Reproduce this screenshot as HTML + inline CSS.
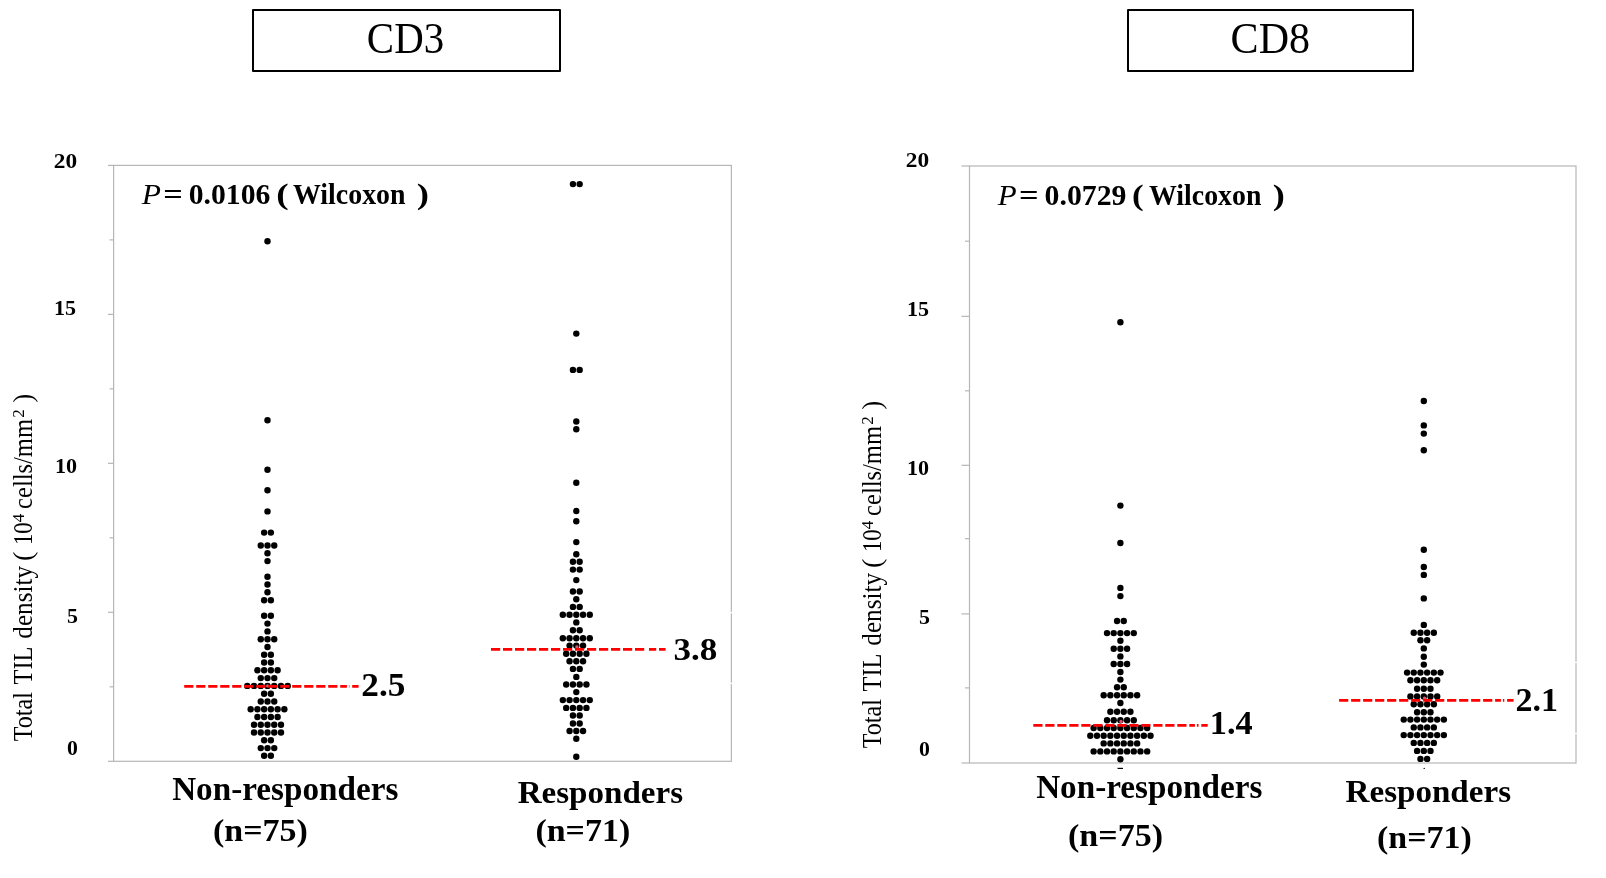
<!DOCTYPE html>
<html lang="en"><head><meta charset="utf-8"><title>CD3 / CD8 TIL density</title>
<style>
html,body{margin:0;padding:0;background:#fff;}
body{width:1606px;height:878px;overflow:hidden;}
svg{display:block;font-family:"Liberation Serif","Times New Roman",serif;fill:#000;}
svg{will-change:transform;}
</style></head><body>
<svg width="1606" height="878" viewBox="0 0 1606 878">
<rect width="1606" height="878" fill="#fff"/>
<g stroke="#b6b6b6" stroke-width="1.2" fill="none">
<rect x="113.6" y="165.4" width="617.75" height="595.9"/>
<line x1="108.0" y1="761.30" x2="113.6" y2="761.30"/>
<line x1="109.6" y1="686.81" x2="113.6" y2="686.81"/>
<line x1="108.0" y1="612.32" x2="113.6" y2="612.32"/>
<line x1="109.6" y1="537.84" x2="113.6" y2="537.84"/>
<line x1="108.0" y1="463.35" x2="113.6" y2="463.35"/>
<line x1="109.6" y1="388.86" x2="113.6" y2="388.86"/>
<line x1="108.0" y1="314.38" x2="113.6" y2="314.38"/>
<line x1="109.6" y1="239.89" x2="113.6" y2="239.89"/>
<line x1="108.0" y1="165.40" x2="113.6" y2="165.40"/>
</g>
<g stroke="#b6b6b6" stroke-width="1.2" fill="none">
<rect x="969.5" y="166.0" width="606.5" height="597.0"/>
<line x1="961.5" y1="763.00" x2="969.5" y2="763.00"/>
<line x1="965.0" y1="687.90" x2="969.5" y2="687.90"/>
<line x1="961.5" y1="613.90" x2="969.5" y2="613.90"/>
<line x1="965.0" y1="538.70" x2="969.5" y2="538.70"/>
<line x1="961.5" y1="465.30" x2="969.5" y2="465.30"/>
<line x1="965.0" y1="390.80" x2="969.5" y2="390.80"/>
<line x1="961.5" y1="316.35" x2="969.5" y2="316.35"/>
<line x1="965.0" y1="241.20" x2="969.5" y2="241.20"/>
<line x1="961.5" y1="166.00" x2="969.5" y2="166.00"/>
</g>
<g fill="#fff"><rect x="729.8" y="612.0" width="3" height="1.3"/><rect x="729.8" y="682.7" width="3" height="1.3"/><rect x="1574.5" y="661.7" width="3" height="1.3"/><rect x="1574.5" y="732.8" width="3" height="1.3"/></g>
<g stroke="#000" stroke-width="2" stroke-linejoin="round" fill="#fff">
<rect x="253" y="10" width="307" height="61"/>
<rect x="1128" y="10" width="285" height="61"/>
</g>
<text transform="translate(366.86,53.00) scale(0.9179,1)" font-size="44.54"  >CD3</text>
<text transform="translate(1230.62,53.00) scale(0.9435,1)" font-size="44.54"  >CD8</text>
<text transform="translate(53.79,167.79) scale(1.1136,1)" font-size="20.99" font-weight="bold" >20</text>
<text transform="translate(54.03,314.79) scale(1.0490,1)" font-size="21.04" font-weight="bold" >15</text>
<text transform="translate(55.03,472.69) scale(1.0594,1)" font-size="20.84" font-weight="bold" >10</text>
<text transform="translate(67.02,622.69) scale(1.0335,1)" font-size="21.26" font-weight="bold" >5</text>
<text transform="translate(67.10,754.79) scale(1.0387,1)" font-size="20.99" font-weight="bold" >0</text>
<text transform="translate(905.79,166.69) scale(1.1215,1)" font-size="20.84" font-weight="bold" >20</text>
<text transform="translate(907.03,315.79) scale(1.0416,1)" font-size="21.19" font-weight="bold" >15</text>
<text transform="translate(907.03,474.69) scale(1.0670,1)" font-size="20.69" font-weight="bold" >10</text>
<text transform="translate(919.02,623.79) scale(1.0262,1)" font-size="21.41" font-weight="bold" >5</text>
<text transform="translate(919.10,755.79) scale(1.0460,1)" font-size="20.84" font-weight="bold" >0</text>
<text transform="translate(141.81,203.50) scale(1.1070,1)" font-size="28.47" font-style="italic">P</text>
<text transform="translate(163.18,203.50) scale(1.2054,1)" font-size="28.47" font-weight="bold">=</text>
<text transform="translate(188.71,203.50) scale(1.0433,1)" font-size="28.47" font-weight="bold">0.0106</text>
<text transform="translate(276.18,203.50) scale(1.3138,1)" font-size="28.47" font-weight="bold">(</text>
<text transform="translate(293.03,203.50) scale(0.9784,1)" font-size="28.47" font-weight="bold">Wilcoxon</text>
<text transform="translate(416.68,203.50) scale(1.2864,1)" font-size="28.47" font-weight="bold">)</text>
<text transform="translate(997.71,204.50) scale(1.0893,1)" font-size="28.47" font-style="italic">P</text>
<text transform="translate(1019.07,204.50) scale(1.2130,1)" font-size="28.47" font-weight="bold">=</text>
<text transform="translate(1044.61,204.50) scale(1.0459,1)" font-size="28.47" font-weight="bold">0.0729</text>
<text transform="translate(1131.88,204.50) scale(1.2317,1)" font-size="28.47" font-weight="bold">(</text>
<text transform="translate(1149.03,204.50) scale(0.9775,1)" font-size="28.47" font-weight="bold">Wilcoxon</text>
<text transform="translate(1272.69,204.50) scale(1.2727,1)" font-size="28.47" font-weight="bold">)</text>
<text transform="translate(32.00,741.30) rotate(-90) scale(0.9186,1)" font-size="26.3">Total</text>
<text transform="translate(32.00,684.41) rotate(-90) scale(0.9244,1)" font-size="26.3">TIL</text>
<text transform="translate(32.00,638.72) rotate(-90) scale(0.9579,1)" font-size="26.3">density</text>
<text transform="translate(32.00,561.02) rotate(-90) scale(1.0666,1)" font-size="26.3">(</text>
<text transform="translate(32.00,545.08) rotate(-90) scale(0.8674,1)" font-size="26.3">10</text>
<text transform="translate(23.70,522.24) rotate(-90) scale(1.0656,1)" font-size="16.0">4</text>
<text transform="translate(32.00,508.90) rotate(-90) scale(0.9334,1)" font-size="26.3">cells/mm</text>
<text transform="translate(23.70,417.64) rotate(-90) scale(1.0625,1)" font-size="16.0">2</text>
<text transform="translate(32.00,402.57) rotate(-90) scale(0.9925,1)" font-size="26.3">)</text>
<text transform="translate(880.90,748.30) rotate(-90) scale(0.9186,1)" font-size="26.3">Total</text>
<text transform="translate(880.90,691.41) rotate(-90) scale(0.9244,1)" font-size="26.3">TIL</text>
<text transform="translate(880.90,645.72) rotate(-90) scale(0.9579,1)" font-size="26.3">density</text>
<text transform="translate(880.90,568.02) rotate(-90) scale(1.0666,1)" font-size="26.3">(</text>
<text transform="translate(880.90,552.08) rotate(-90) scale(0.8674,1)" font-size="26.3">10</text>
<text transform="translate(872.60,529.24) rotate(-90) scale(1.0656,1)" font-size="16.0">4</text>
<text transform="translate(880.90,515.90) rotate(-90) scale(0.9334,1)" font-size="26.3">cells/mm</text>
<text transform="translate(872.60,424.64) rotate(-90) scale(1.0625,1)" font-size="16.0">2</text>
<text transform="translate(880.90,409.57) rotate(-90) scale(0.9925,1)" font-size="26.3">)</text>
<text transform="translate(172.14,799.60) scale(1.0086,1)" font-size="32.91" font-weight="bold" >Non-responders</text>
<text transform="translate(212.93,841.30) scale(1.0536,1)" font-size="32.30" font-weight="bold" >(n=75)</text>
<text transform="translate(517.65,802.60) scale(1.0245,1)" font-size="32.30" font-weight="bold" >Responders</text>
<text transform="translate(535.43,841.30) scale(1.0513,1)" font-size="32.30" font-weight="bold" >(n=71)</text>
<text transform="translate(1036.14,797.70) scale(1.0133,1)" font-size="32.76" font-weight="bold" >Non-responders</text>
<text transform="translate(1068.03,846.30) scale(1.0637,1)" font-size="31.99" font-weight="bold" >(n=75)</text>
<text transform="translate(1345.55,801.50) scale(1.0300,1)" font-size="32.14" font-weight="bold" >Responders</text>
<text transform="translate(1377.03,848.20) scale(1.0614,1)" font-size="31.99" font-weight="bold" >(n=71)</text>
<g><!-- 75 points -->
<circle cx="267.50" cy="241.20" r="3.2"/>
<circle cx="267.50" cy="420.20" r="3.2"/>
<circle cx="267.50" cy="469.80" r="3.2"/>
<circle cx="267.50" cy="490.30" r="3.2"/>
<circle cx="267.50" cy="511.40" r="3.2"/>
<circle cx="264.13" cy="532.60" r="3.2"/>
<circle cx="270.87" cy="532.60" r="3.2"/>
<circle cx="260.76" cy="545.50" r="3.2"/>
<circle cx="267.50" cy="545.50" r="3.2"/>
<circle cx="274.24" cy="545.50" r="3.2"/>
<circle cx="267.50" cy="553.30" r="3.2"/>
<circle cx="267.50" cy="561.10" r="3.2"/>
<circle cx="267.50" cy="576.70" r="3.2"/>
<circle cx="267.50" cy="584.50" r="3.2"/>
<circle cx="267.50" cy="592.30" r="3.2"/>
<circle cx="264.13" cy="600.30" r="3.2"/>
<circle cx="270.87" cy="600.30" r="3.2"/>
<circle cx="264.13" cy="615.80" r="3.2"/>
<circle cx="270.87" cy="615.80" r="3.2"/>
<circle cx="267.50" cy="623.60" r="3.2"/>
<circle cx="267.50" cy="631.40" r="3.2"/>
<circle cx="260.76" cy="639.20" r="3.2"/>
<circle cx="267.50" cy="639.20" r="3.2"/>
<circle cx="274.24" cy="639.20" r="3.2"/>
<circle cx="267.50" cy="647.00" r="3.2"/>
<circle cx="264.13" cy="654.80" r="3.2"/>
<circle cx="270.87" cy="654.80" r="3.2"/>
<circle cx="264.13" cy="662.50" r="3.2"/>
<circle cx="270.87" cy="662.50" r="3.2"/>
<circle cx="257.39" cy="670.30" r="3.2"/>
<circle cx="264.13" cy="670.30" r="3.2"/>
<circle cx="270.87" cy="670.30" r="3.2"/>
<circle cx="277.61" cy="670.30" r="3.2"/>
<circle cx="260.76" cy="678.10" r="3.2"/>
<circle cx="267.50" cy="678.10" r="3.2"/>
<circle cx="274.24" cy="678.10" r="3.2"/>
<circle cx="247.28" cy="685.90" r="3.2"/>
<circle cx="254.02" cy="685.90" r="3.2"/>
<circle cx="260.76" cy="685.90" r="3.2"/>
<circle cx="267.50" cy="685.90" r="3.2"/>
<circle cx="274.24" cy="685.90" r="3.2"/>
<circle cx="280.98" cy="685.90" r="3.2"/>
<circle cx="287.72" cy="685.90" r="3.2"/>
<circle cx="264.13" cy="693.70" r="3.2"/>
<circle cx="270.87" cy="693.70" r="3.2"/>
<circle cx="260.76" cy="701.50" r="3.2"/>
<circle cx="267.50" cy="701.50" r="3.2"/>
<circle cx="274.24" cy="701.50" r="3.2"/>
<circle cx="250.65" cy="709.20" r="3.2"/>
<circle cx="257.39" cy="709.20" r="3.2"/>
<circle cx="264.13" cy="709.20" r="3.2"/>
<circle cx="270.87" cy="709.20" r="3.2"/>
<circle cx="277.61" cy="709.20" r="3.2"/>
<circle cx="284.35" cy="709.20" r="3.2"/>
<circle cx="257.39" cy="717.00" r="3.2"/>
<circle cx="264.13" cy="717.00" r="3.2"/>
<circle cx="270.87" cy="717.00" r="3.2"/>
<circle cx="277.61" cy="717.00" r="3.2"/>
<circle cx="254.02" cy="724.80" r="3.2"/>
<circle cx="260.76" cy="724.80" r="3.2"/>
<circle cx="267.50" cy="724.80" r="3.2"/>
<circle cx="274.24" cy="724.80" r="3.2"/>
<circle cx="280.98" cy="724.80" r="3.2"/>
<circle cx="254.02" cy="732.50" r="3.2"/>
<circle cx="260.76" cy="732.50" r="3.2"/>
<circle cx="267.50" cy="732.50" r="3.2"/>
<circle cx="274.24" cy="732.50" r="3.2"/>
<circle cx="280.98" cy="732.50" r="3.2"/>
<circle cx="264.13" cy="740.30" r="3.2"/>
<circle cx="270.87" cy="740.30" r="3.2"/>
<circle cx="260.76" cy="748.10" r="3.2"/>
<circle cx="267.50" cy="748.10" r="3.2"/>
<circle cx="274.24" cy="748.10" r="3.2"/>
<circle cx="264.13" cy="755.80" r="3.2"/>
<circle cx="270.87" cy="755.80" r="3.2"/>
</g>
<g><!-- 71 points -->
<circle cx="572.93" cy="184.10" r="3.2"/>
<circle cx="579.67" cy="184.10" r="3.2"/>
<circle cx="576.30" cy="333.60" r="3.2"/>
<circle cx="572.93" cy="369.90" r="3.2"/>
<circle cx="579.67" cy="369.90" r="3.2"/>
<circle cx="576.30" cy="421.50" r="3.2"/>
<circle cx="576.30" cy="429.20" r="3.2"/>
<circle cx="576.30" cy="482.70" r="3.2"/>
<circle cx="576.30" cy="511.00" r="3.2"/>
<circle cx="576.30" cy="521.20" r="3.2"/>
<circle cx="576.30" cy="542.10" r="3.2"/>
<circle cx="576.30" cy="554.20" r="3.2"/>
<circle cx="572.93" cy="561.80" r="3.2"/>
<circle cx="579.67" cy="561.80" r="3.2"/>
<circle cx="572.93" cy="569.60" r="3.2"/>
<circle cx="579.67" cy="569.60" r="3.2"/>
<circle cx="576.30" cy="580.10" r="3.2"/>
<circle cx="572.93" cy="591.50" r="3.2"/>
<circle cx="579.67" cy="591.50" r="3.2"/>
<circle cx="576.30" cy="599.30" r="3.2"/>
<circle cx="572.93" cy="606.90" r="3.2"/>
<circle cx="579.67" cy="606.90" r="3.2"/>
<circle cx="562.82" cy="614.80" r="3.2"/>
<circle cx="569.56" cy="614.80" r="3.2"/>
<circle cx="576.30" cy="614.80" r="3.2"/>
<circle cx="583.04" cy="614.80" r="3.2"/>
<circle cx="589.78" cy="614.80" r="3.2"/>
<circle cx="576.30" cy="622.40" r="3.2"/>
<circle cx="572.93" cy="630.20" r="3.2"/>
<circle cx="579.67" cy="630.20" r="3.2"/>
<circle cx="562.82" cy="638.20" r="3.2"/>
<circle cx="569.56" cy="638.20" r="3.2"/>
<circle cx="576.30" cy="638.20" r="3.2"/>
<circle cx="583.04" cy="638.20" r="3.2"/>
<circle cx="589.78" cy="638.20" r="3.2"/>
<circle cx="569.56" cy="645.60" r="3.2"/>
<circle cx="576.30" cy="645.60" r="3.2"/>
<circle cx="583.04" cy="645.60" r="3.2"/>
<circle cx="566.19" cy="653.80" r="3.2"/>
<circle cx="572.93" cy="653.80" r="3.2"/>
<circle cx="579.67" cy="653.80" r="3.2"/>
<circle cx="586.41" cy="653.80" r="3.2"/>
<circle cx="569.56" cy="661.30" r="3.2"/>
<circle cx="576.30" cy="661.30" r="3.2"/>
<circle cx="583.04" cy="661.30" r="3.2"/>
<circle cx="572.93" cy="668.90" r="3.2"/>
<circle cx="579.67" cy="668.90" r="3.2"/>
<circle cx="576.30" cy="676.90" r="3.2"/>
<circle cx="566.19" cy="684.50" r="3.2"/>
<circle cx="572.93" cy="684.50" r="3.2"/>
<circle cx="579.67" cy="684.50" r="3.2"/>
<circle cx="586.41" cy="684.50" r="3.2"/>
<circle cx="576.30" cy="692.10" r="3.2"/>
<circle cx="562.82" cy="700.10" r="3.2"/>
<circle cx="569.56" cy="700.10" r="3.2"/>
<circle cx="576.30" cy="700.10" r="3.2"/>
<circle cx="583.04" cy="700.10" r="3.2"/>
<circle cx="589.78" cy="700.10" r="3.2"/>
<circle cx="566.19" cy="707.90" r="3.2"/>
<circle cx="572.93" cy="707.90" r="3.2"/>
<circle cx="579.67" cy="707.90" r="3.2"/>
<circle cx="586.41" cy="707.90" r="3.2"/>
<circle cx="572.93" cy="715.50" r="3.2"/>
<circle cx="579.67" cy="715.50" r="3.2"/>
<circle cx="572.93" cy="723.50" r="3.2"/>
<circle cx="579.67" cy="723.50" r="3.2"/>
<circle cx="569.56" cy="731.00" r="3.2"/>
<circle cx="576.30" cy="731.00" r="3.2"/>
<circle cx="583.04" cy="731.00" r="3.2"/>
<circle cx="576.30" cy="738.80" r="3.2"/>
<circle cx="576.30" cy="756.70" r="3.2"/>
</g>
<g><!-- 75 points -->
<circle cx="1120.40" cy="322.30" r="3.2"/>
<circle cx="1120.40" cy="505.60" r="3.2"/>
<circle cx="1120.40" cy="543.00" r="3.2"/>
<circle cx="1120.40" cy="587.90" r="3.2"/>
<circle cx="1120.40" cy="596.10" r="3.2"/>
<circle cx="1117.06" cy="621.00" r="3.2"/>
<circle cx="1123.75" cy="621.00" r="3.2"/>
<circle cx="1107.02" cy="633.10" r="3.2"/>
<circle cx="1113.71" cy="633.10" r="3.2"/>
<circle cx="1120.40" cy="633.10" r="3.2"/>
<circle cx="1127.09" cy="633.10" r="3.2"/>
<circle cx="1133.78" cy="633.10" r="3.2"/>
<circle cx="1120.40" cy="640.80" r="3.2"/>
<circle cx="1113.71" cy="648.80" r="3.2"/>
<circle cx="1120.40" cy="648.80" r="3.2"/>
<circle cx="1127.09" cy="648.80" r="3.2"/>
<circle cx="1120.40" cy="656.40" r="3.2"/>
<circle cx="1113.71" cy="664.00" r="3.2"/>
<circle cx="1120.40" cy="664.00" r="3.2"/>
<circle cx="1127.09" cy="664.00" r="3.2"/>
<circle cx="1120.40" cy="672.00" r="3.2"/>
<circle cx="1120.40" cy="679.60" r="3.2"/>
<circle cx="1117.06" cy="687.20" r="3.2"/>
<circle cx="1123.75" cy="687.20" r="3.2"/>
<circle cx="1103.68" cy="695.30" r="3.2"/>
<circle cx="1110.37" cy="695.30" r="3.2"/>
<circle cx="1117.06" cy="695.30" r="3.2"/>
<circle cx="1123.75" cy="695.30" r="3.2"/>
<circle cx="1130.44" cy="695.30" r="3.2"/>
<circle cx="1137.12" cy="695.30" r="3.2"/>
<circle cx="1120.40" cy="703.00" r="3.2"/>
<circle cx="1110.37" cy="711.80" r="3.2"/>
<circle cx="1117.06" cy="711.80" r="3.2"/>
<circle cx="1123.75" cy="711.80" r="3.2"/>
<circle cx="1130.44" cy="711.80" r="3.2"/>
<circle cx="1107.02" cy="720.30" r="3.2"/>
<circle cx="1113.71" cy="720.30" r="3.2"/>
<circle cx="1120.40" cy="720.30" r="3.2"/>
<circle cx="1127.09" cy="720.30" r="3.2"/>
<circle cx="1133.78" cy="720.30" r="3.2"/>
<circle cx="1093.64" cy="728.00" r="3.2"/>
<circle cx="1100.33" cy="728.00" r="3.2"/>
<circle cx="1107.02" cy="728.00" r="3.2"/>
<circle cx="1113.71" cy="728.00" r="3.2"/>
<circle cx="1120.40" cy="728.00" r="3.2"/>
<circle cx="1127.09" cy="728.00" r="3.2"/>
<circle cx="1133.78" cy="728.00" r="3.2"/>
<circle cx="1140.47" cy="728.00" r="3.2"/>
<circle cx="1147.16" cy="728.00" r="3.2"/>
<circle cx="1090.30" cy="735.80" r="3.2"/>
<circle cx="1096.99" cy="735.80" r="3.2"/>
<circle cx="1103.68" cy="735.80" r="3.2"/>
<circle cx="1110.37" cy="735.80" r="3.2"/>
<circle cx="1117.06" cy="735.80" r="3.2"/>
<circle cx="1123.75" cy="735.80" r="3.2"/>
<circle cx="1130.44" cy="735.80" r="3.2"/>
<circle cx="1137.12" cy="735.80" r="3.2"/>
<circle cx="1143.82" cy="735.80" r="3.2"/>
<circle cx="1150.51" cy="735.80" r="3.2"/>
<circle cx="1103.68" cy="743.40" r="3.2"/>
<circle cx="1110.37" cy="743.40" r="3.2"/>
<circle cx="1117.06" cy="743.40" r="3.2"/>
<circle cx="1123.75" cy="743.40" r="3.2"/>
<circle cx="1130.44" cy="743.40" r="3.2"/>
<circle cx="1137.12" cy="743.40" r="3.2"/>
<circle cx="1093.64" cy="751.40" r="3.2"/>
<circle cx="1100.33" cy="751.40" r="3.2"/>
<circle cx="1107.02" cy="751.40" r="3.2"/>
<circle cx="1113.71" cy="751.40" r="3.2"/>
<circle cx="1120.40" cy="751.40" r="3.2"/>
<circle cx="1127.09" cy="751.40" r="3.2"/>
<circle cx="1133.78" cy="751.40" r="3.2"/>
<circle cx="1140.47" cy="751.40" r="3.2"/>
<circle cx="1147.16" cy="751.40" r="3.2"/>
<circle cx="1120.40" cy="759.20" r="3.2"/>
</g>
<g><!-- 71 points -->
<circle cx="1423.80" cy="401.05" r="3.2"/>
<circle cx="1423.80" cy="425.40" r="3.2"/>
<circle cx="1423.80" cy="433.60" r="3.2"/>
<circle cx="1423.80" cy="450.30" r="3.2"/>
<circle cx="1423.80" cy="549.80" r="3.2"/>
<circle cx="1423.80" cy="567.00" r="3.2"/>
<circle cx="1423.80" cy="574.90" r="3.2"/>
<circle cx="1423.80" cy="598.40" r="3.2"/>
<circle cx="1423.80" cy="624.90" r="3.2"/>
<circle cx="1413.76" cy="632.80" r="3.2"/>
<circle cx="1420.45" cy="632.80" r="3.2"/>
<circle cx="1427.14" cy="632.80" r="3.2"/>
<circle cx="1433.84" cy="632.80" r="3.2"/>
<circle cx="1420.45" cy="640.20" r="3.2"/>
<circle cx="1427.14" cy="640.20" r="3.2"/>
<circle cx="1423.80" cy="648.40" r="3.2"/>
<circle cx="1423.80" cy="656.80" r="3.2"/>
<circle cx="1423.80" cy="664.60" r="3.2"/>
<circle cx="1407.08" cy="672.60" r="3.2"/>
<circle cx="1413.76" cy="672.60" r="3.2"/>
<circle cx="1420.45" cy="672.60" r="3.2"/>
<circle cx="1427.14" cy="672.60" r="3.2"/>
<circle cx="1433.84" cy="672.60" r="3.2"/>
<circle cx="1440.52" cy="672.60" r="3.2"/>
<circle cx="1410.42" cy="680.20" r="3.2"/>
<circle cx="1417.11" cy="680.20" r="3.2"/>
<circle cx="1423.80" cy="680.20" r="3.2"/>
<circle cx="1430.49" cy="680.20" r="3.2"/>
<circle cx="1437.18" cy="680.20" r="3.2"/>
<circle cx="1417.11" cy="688.80" r="3.2"/>
<circle cx="1423.80" cy="688.80" r="3.2"/>
<circle cx="1430.49" cy="688.80" r="3.2"/>
<circle cx="1410.42" cy="696.40" r="3.2"/>
<circle cx="1417.11" cy="696.40" r="3.2"/>
<circle cx="1423.80" cy="696.40" r="3.2"/>
<circle cx="1430.49" cy="696.40" r="3.2"/>
<circle cx="1437.18" cy="696.40" r="3.2"/>
<circle cx="1413.76" cy="704.20" r="3.2"/>
<circle cx="1420.45" cy="704.20" r="3.2"/>
<circle cx="1427.14" cy="704.20" r="3.2"/>
<circle cx="1433.84" cy="704.20" r="3.2"/>
<circle cx="1417.11" cy="712.20" r="3.2"/>
<circle cx="1423.80" cy="712.20" r="3.2"/>
<circle cx="1430.49" cy="712.20" r="3.2"/>
<circle cx="1403.73" cy="719.60" r="3.2"/>
<circle cx="1410.42" cy="719.60" r="3.2"/>
<circle cx="1417.11" cy="719.60" r="3.2"/>
<circle cx="1423.80" cy="719.60" r="3.2"/>
<circle cx="1430.49" cy="719.60" r="3.2"/>
<circle cx="1437.18" cy="719.60" r="3.2"/>
<circle cx="1443.87" cy="719.60" r="3.2"/>
<circle cx="1413.76" cy="727.40" r="3.2"/>
<circle cx="1420.45" cy="727.40" r="3.2"/>
<circle cx="1427.14" cy="727.40" r="3.2"/>
<circle cx="1433.84" cy="727.40" r="3.2"/>
<circle cx="1403.73" cy="735.10" r="3.2"/>
<circle cx="1410.42" cy="735.10" r="3.2"/>
<circle cx="1417.11" cy="735.10" r="3.2"/>
<circle cx="1423.80" cy="735.10" r="3.2"/>
<circle cx="1430.49" cy="735.10" r="3.2"/>
<circle cx="1437.18" cy="735.10" r="3.2"/>
<circle cx="1443.87" cy="735.10" r="3.2"/>
<circle cx="1413.76" cy="742.90" r="3.2"/>
<circle cx="1420.45" cy="742.90" r="3.2"/>
<circle cx="1427.14" cy="742.90" r="3.2"/>
<circle cx="1433.84" cy="742.90" r="3.2"/>
<circle cx="1417.11" cy="750.90" r="3.2"/>
<circle cx="1423.80" cy="750.90" r="3.2"/>
<circle cx="1430.49" cy="750.90" r="3.2"/>
<circle cx="1420.45" cy="758.90" r="3.2"/>
<circle cx="1427.14" cy="758.90" r="3.2"/>
</g>
<rect x="1117.6" y="767.8" width="5.4" height="1.2"/>
<circle cx="1424.2" cy="768.4" r="0.7"/>
<circle cx="267.7" cy="685.9" r="1.7" fill="#d8566c"/>
<line x1="184.2" y1="686.4" x2="358.6" y2="686.4" stroke="#ff0000" stroke-width="2.9" stroke-dasharray="9.2 2.8"/>
<rect x="346.9" y="683.9" width="2.0" height="5" fill="#fff"/>
<text transform="translate(361.37,695.56) scale(1.0808,1)" font-size="32.66" font-weight="bold" >2.5</text>
<circle cx="576.9" cy="646.9" r="1.7" fill="#d8566c"/>
<line x1="491.0" y1="649.4" x2="665.6" y2="649.4" stroke="#ff0000" stroke-width="2.9" stroke-dasharray="9.2 2.8"/>
<rect x="646.8" y="646.9" width="2.2" height="5" fill="#fff"/>
<text transform="translate(673.51,659.57) scale(1.0795,1)" font-size="32.50" font-weight="bold" >3.8</text>
<circle cx="1121.0" cy="721.5" r="1.7" fill="#d8566c"/>
<line x1="1033.3" y1="725.4" x2="1207.7" y2="725.4" stroke="#ff0000" stroke-width="2.9" stroke-dasharray="9.2 2.8"/>
<rect x="1194.9" y="722.9" width="2.0" height="5" fill="#fff"/>
<text transform="translate(1209.86,733.56) scale(1.0438,1)" font-size="32.82" font-weight="bold" >1.4</text>
<circle cx="1424.5" cy="698.1" r="1.7" fill="#d8566c"/>
<line x1="1339.1" y1="700.4" x2="1513.6" y2="700.4" stroke="#ff0000" stroke-width="2.9" stroke-dasharray="9.2 2.8"/>
<rect x="1500.9" y="697.9" width="2.0" height="5" fill="#fff"/>
<text transform="translate(1515.42,710.56) scale(1.0433,1)" font-size="32.66" font-weight="bold" >2.1</text>
</svg></body></html>
